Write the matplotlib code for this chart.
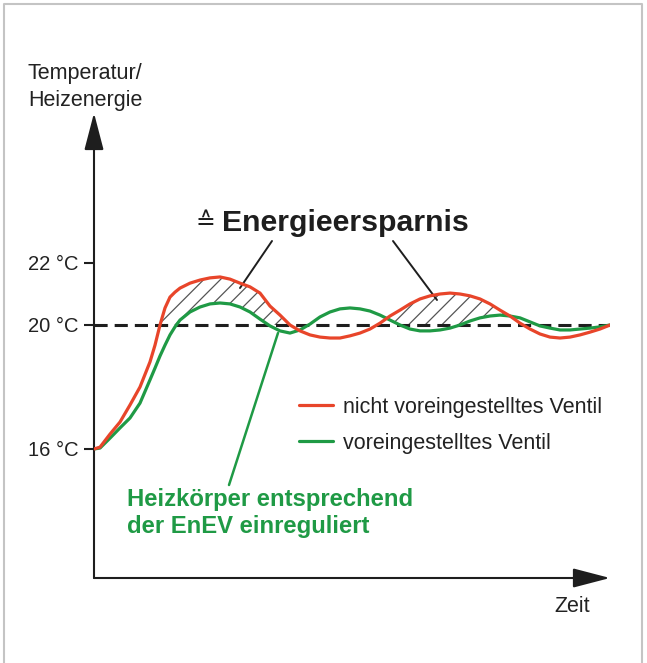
import numpy as np
import matplotlib
matplotlib.use('Agg')
import matplotlib.pyplot as plt
from matplotlib.lines import Line2D

plt.rcParams['font.family'] = ['Liberation Sans', 'DejaVu Sans']
plt.rcParams['hatch.linewidth'] = 0.9

# Data (time in arbitrary units, temperature in degC)
zeit = [0, 6, 16, 26, 36, 46, 56, 61, 66, 71, 76, 81, 86, 96, 106, 116, 126, 136,
        146, 156, 166, 176, 186, 196, 206, 216, 226, 236, 246, 256, 266, 276, 286,
        296, 306, 316, 326, 336, 346, 356, 366, 376, 386, 396, 406, 416, 426, 436,
        446, 456, 466, 476, 486, 496, 506, 516]
temp_nicht_voreingestellt = [16.0, 16.06, 16.48, 16.87, 17.42, 18.0, 18.81, 19.35, 20.0, 20.55,
                             20.9, 21.06, 21.19, 21.35, 21.45, 21.52, 21.55, 21.48, 21.35, 21.23,
                             21.03, 20.61, 20.32, 20.0, 19.81, 19.68, 19.61, 19.58, 19.58, 19.65,
                             19.74, 19.87, 20.06, 20.29, 20.48, 20.68, 20.84, 20.94, 21.0, 21.03,
                             21.0, 20.94, 20.84, 20.68, 20.48, 20.29, 20.06, 19.87, 19.71, 19.61,
                             19.58, 19.61, 19.68, 19.77, 19.87, 20.0]
temp_voreingestellt = [16.0, 16.03, 16.35, 16.68, 17.0, 17.48, 18.23, 18.61, 19.0, 19.35,
                       19.68, 19.94, 20.16, 20.42, 20.58, 20.68, 20.71, 20.68, 20.58, 20.42,
                       20.19, 19.97, 19.81, 19.74, 19.84, 20.03, 20.26, 20.42, 20.52, 20.55,
                       20.52, 20.45, 20.32, 20.16, 20.0, 19.87, 19.81, 19.81, 19.84, 19.9,
                       20.0, 20.13, 20.23, 20.29, 20.32, 20.29, 20.23, 20.1, 19.97, 19.9,
                       19.84, 19.84, 19.87, 19.9, 19.94, 20.0]
sollwert = 20
ytick_values = [16, 20, 22]
ytick_labels = ['16 °C', '20 °C', '22 °C']
labels = ['nicht voreingestelltes Ventil', 'voreingestelltes Ventil']

RED = '#e8452a'
GREEN = '#1f9a45'
DARK = '#1e1e1e'

W, H = 647, 663


def fx(px):
    return px / W


def fy(py):
    return 1 - py / H


fig = plt.figure(figsize=(W / 100, H / 100), dpi=100)
ax = fig.add_axes([fx(94), fy(578), fx(610) - fx(94), fy(113) - fy(578)])
ax.set_xlim(0, 516)
ax.set_ylim(20 - 253 / 31, 20 + 212 / 31)
for s in ax.spines.values():
    s.set_visible(False)

x = np.array(zeit)
red = np.array(temp_nicht_voreingestellt)
green = np.array(temp_voreingestellt)

# hatched saving area
lower = np.maximum(green, sollwert)
ax.fill_between(x, lower, red, where=red > lower, interpolate=True,
                facecolor='none', edgecolor='#555555', linewidth=0, hatch='//')

ax.axhline(sollwert, color=DARK, lw=2.2, dashes=(4.3, 2.3), zorder=2)
l_red, = ax.plot(x, red, color=RED, lw=2.3, zorder=4, solid_capstyle='round',
                 solid_joinstyle='round')
l_green, = ax.plot(x, green, color=GREEN, lw=2.3, zorder=3, solid_capstyle='round',
                   solid_joinstyle='round')

# axes with arrows
arrow = dict(arrowstyle='-|>,head_length=2.3,head_width=0.6', color=DARK, lw=1.5,
             shrinkA=0, shrinkB=0, mutation_scale=10)
ax.annotate('', xy=(1, 0), xytext=(0, 0), xycoords='axes fraction', arrowprops=arrow)
ax.annotate('', xy=(0, 1), xytext=(0, 0), xycoords='axes fraction', arrowprops=arrow)

ax.set_xticks([])
ax.set_yticks(ytick_values)
ax.set_yticklabels(ytick_labels, fontsize=14.5, color='#222222')
ax.tick_params(axis='y', length=7, width=1.5, color=DARK, pad=4)

fig.text(fx(28), fy(63), 'Temperatur/\nHeizenergie', fontsize=15.5, color='#222222',
         ha='left', va='top', linespacing=1.38)
fig.text(fx(572), fy(606), 'Zeit', fontsize=15.5, color='#222222', ha='center', va='center')

# annotation
fig.text(fx(196), fy(222), '≙', fontsize=17, color=DARK, ha='left', va='center',
         family=['DejaVu Sans'])
fig.text(fx(222), fy(223), 'Energieersparnis', fontsize=21.8, fontweight='bold',
         color=DARK, ha='left', va='center')
lead = dict(arrowstyle='-', color=DARK, lw=1.4, shrinkA=0, shrinkB=0)
ax.annotate('', xy=(146, 20 + 37 / 31), xytext=(fx(272), fy(241)),
            textcoords='figure fraction', arrowprops=lead)
ax.annotate('', xy=(343, 20 + 25 / 31), xytext=(fx(393), fy(241)),
            textcoords='figure fraction', arrowprops=lead)

lead_g = dict(arrowstyle='-', color=GREEN, lw=1.8, shrinkA=0, shrinkB=0)
ax.annotate('', xy=(184, 20 - 8 / 31), xytext=(fx(229), fy(485)),
            textcoords='figure fraction', arrowprops=lead_g)
fig.text(fx(127), fy(488), 'Heizkörper entsprechend\nder EnEV einreguliert',
         fontsize=17.2, fontweight='bold', color=GREEN, ha='left', va='top',
         linespacing=1.24)

ax.legend([l_red, l_green], labels, loc='upper left', bbox_to_anchor=(fx(299), fy(397)),
          bbox_transform=fig.transFigure, frameon=False, fontsize=15.5, handlelength=1.6,
          handletextpad=0.45, labelspacing=0.68, borderpad=0, borderaxespad=0,
          labelcolor='#222222')

# thin grey frame around the picture
fig.add_artist(Line2D([fx(4), fx(4), fx(642), fx(642)], [fy(665), fy(4), fy(4), fy(665)],
                      transform=fig.transFigure, color='#c4c4c4', lw=1.5))

fig.savefig('out.png', dpi=100)
